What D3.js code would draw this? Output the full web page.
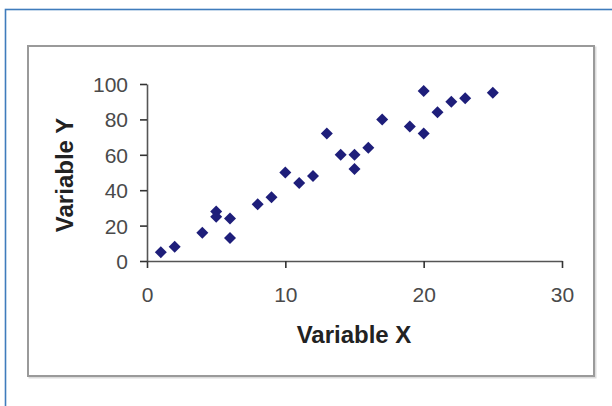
<!DOCTYPE html>
<html>
  <head>
    <meta charset="utf-8">
    <title>Variable X vs Variable Y</title>
    <script src="https://cdn.jsdelivr.net/npm/d3@7"></script>
    <style>
      body { margin: 0; background: #fff; }
      svg { display: block; font-family: "Liberation Sans", Arial, sans-serif; }
    </style>
  </head>
  <body>
    <svg></svg>
    <script>
      // Data values
      var xValues = [1, 2, 4, 5, 5, 6, 6, 8, 9, 10, 11, 12, 13, 14, 15, 15, 16, 17, 19, 20, 20, 21, 22, 23, 25];
      var yValues = [5, 8, 16, 28, 25, 24, 13, 32, 36, 50, 44, 48, 72, 60, 60, 52, 64, 80, 76, 96, 72, 84, 90, 92, 95];
      var xTicks = [0, 10, 20, 30];
      var yTicks = [0, 20, 40, 60, 80, 100];
      var xTitle = "Variable X";
      var yTitle = "Variable Y";

      var width = 612, height = 406;

      var svg = d3.select("svg")
        .attr("width", width)
        .attr("height", height);

      // outer blue frame (runs off the right and bottom edge)
      svg.append("rect")
        .attr("x", 5.5).attr("y", 9.5)
        .attr("width", 700).attr("height", 500)
        .attr("fill", "none")
        .attr("stroke", "#3f7cbc")
        .attr("stroke-width", 1.6);

      // chart box with a soft shadow
      svg.append("rect")
        .attr("x", 29.5).attr("y", 47.5)
        .attr("width", 566).attr("height", 330)
        .attr("fill", "none")
        .attr("stroke", "#dcdcdc")
        .attr("stroke-width", 2);
      svg.append("rect")
        .attr("x", 28).attr("y", 46)
        .attr("width", 566).attr("height", 330)
        .attr("fill", "#fff")
        .attr("stroke", "#9a9a9a")
        .attr("stroke-width", 2);

      var x = d3.scaleLinear().domain([0, 30]).range([147, 562]);
      var y = d3.scaleLinear().domain([0, 100]).range([261, 84]);

      var xAxis = svg.append("g")
        .attr("transform", "translate(0," + y(0) + ")")
        .call(d3.axisBottom(x).tickValues(xTicks).tickSize(7).tickSizeOuter(0).tickPadding(19));

      var yAxis = svg.append("g")
        .attr("transform", "translate(" + x(0) + ",0)")
        .call(d3.axisLeft(y).tickValues(yTicks).tickSize(7).tickSizeOuter(0).tickPadding(12));

      [xAxis, yAxis].forEach(function(g) {
        g.select(".domain").attr("stroke", "#555").attr("stroke-width", 1.6);
        g.selectAll(".tick line").attr("stroke", "#333").attr("stroke-width", 1.6);
        g.selectAll(".tick text")
          .attr("fill", "#4a4a4a")
          .style("font-size", "21px")
          .style("font-family", "'Liberation Sans', Arial, sans-serif");
      });
      yAxis.selectAll(".tick text").attr("dy", "0.36em");

      // axis titles
      svg.append("text")
        .attr("x", 354).attr("y", 343)
        .attr("text-anchor", "middle")
        .attr("fill", "#222")
        .style("font-size", "24px")
        .style("font-weight", "bold")
        .text(xTitle);

      svg.append("text")
        .attr("transform", "translate(73,175) rotate(-90)")
        .attr("text-anchor", "middle")
        .attr("fill", "#222")
        .style("font-size", "24px")
        .style("font-weight", "bold")
        .text(yTitle);

      // diamond markers
      var points = xValues.map(function(v, i) { return [v, yValues[i]]; });
      var r = 6;
      svg.append("g").selectAll("path")
        .data(points)
        .enter().append("path")
          .attr("transform", function(d) { return "translate(" + x(d[0]) + "," + y(d[1]) + ")"; })
          .attr("d", "M0," + (-r) + "L" + r + ",0L0," + r + "L" + (-r) + ",0Z")
          .attr("fill", "#1e1e7a");
    </script>
  </body>
</html>
